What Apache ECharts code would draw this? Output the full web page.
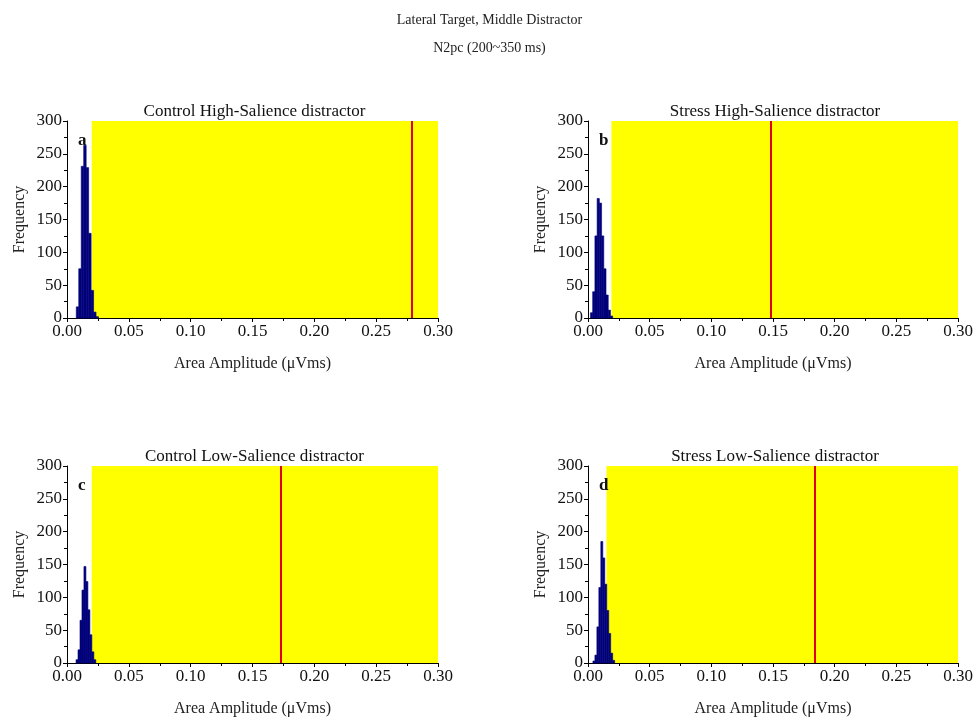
<!DOCTYPE html>
<html>
<head>
<meta charset="utf-8">
<script src="https://cdn.jsdelivr.net/npm/echarts@6/dist/echarts.min.js"></script>
<style>
  html, body { margin: 0; padding: 0; background: #fff; }
  #main { width: 979px; height: 719px; }
</style>
</head>
<body>
<div id="main"></div>
<script>
var myChart = echarts.init(document.getElementById('main'));

// panel data
var panelTitles = ['Control High-Salience distractor', 'Stress High-Salience distractor',
                   'Control Low-Salience distractor', 'Stress Low-Salience distractor'];
var panelLetters = ['a', 'b', 'c', 'd'];

// histogram bins: first bin start, bin width, counts
var binStart = [0.0075, 0.0020, 0.0073, 0.0040];
var binWidth = [0.0020, 0.0018, 0.0016, 0.0016];
var countsA = [17, 75, 231, 263, 229, 129, 42, 9, 2];
var countsB = [8, 40, 125, 182, 175, 125, 75, 35, 12, 3];
var countsC = [5, 20, 65, 111, 147, 124, 81, 43, 17, 5];
var countsD = [3, 12, 55, 115, 185, 160, 120, 80, 45, 15, 4];
var counts = [countsA, countsB, countsC, countsD];

// shaded region start and observed value (red line)
var shadeStart = [0.020, 0.019, 0.020, 0.015];
var observed = [0.279, 0.148, 0.173, 0.184];

var xTicks = [0, 0.30, 0.05];
var yTicks = [0, 300, 50];

var grids = [
    {left: 67, top: 121, width: 371, height: 197},
    {left: 588, top: 121, width: 370, height: 197},
    {left: 67, top: 466, width: 371, height: 197},
    {left: 588, top: 466, width: 370, height: 197}
];

var font = 'Liberation Serif';

var titles = [
    {text: 'Lateral Target, Middle Distractor', left: 'center', top: 8,
     textStyle: {fontFamily: font, fontSize: 14, fontWeight: 'normal', color: '#222'}},
    {text: 'N2pc (200~350 ms)', left: 'center', top: 36,
     textStyle: {fontFamily: font, fontSize: 14, fontWeight: 'normal', color: '#222'}}
];
var xAxes = [], yAxes = [], series = [];

for (var i = 0; i < 4; i++) {
    var g = grids[i];
    titles.push({
        text: panelTitles[i], left: g.left + g.width / 2 - 3, top: g.top - 23, textAlign: 'center',
        textStyle: {fontFamily: font, fontSize: 17, fontWeight: 'normal', color: '#111'}
    });
    titles.push({
        text: panelLetters[i], left: g.left + 6, top: g.top + 6,
        textStyle: {fontFamily: font, fontSize: 17, fontWeight: 'bold', color: '#111'}
    });
    xAxes.push({
        gridIndex: i, type: 'value', min: xTicks[0], max: xTicks[1], interval: xTicks[2],
        name: 'Area Amplitude (\u03bcVms)', nameLocation: 'middle', nameGap: 38,
        nameTextStyle: {fontFamily: font, fontSize: 16, color: '#222'},
        axisLine: {lineStyle: {color: '#000', width: 1}},
        axisTick: {show: true, length: 4, inside: false, lineStyle: {color: '#000'}},
        minorTick: {show: true, splitNumber: 2, length: 3, lineStyle: {color: '#000'}},
        splitLine: {show: false},
        axisLabel: {fontFamily: font, fontSize: 17, color: '#111', margin: 5,
                    formatter: function (v) { return v.toFixed(2); }}
    });
    yAxes.push({
        gridIndex: i, type: 'value', min: yTicks[0], max: yTicks[1], interval: yTicks[2],
        name: 'Frequency', nameLocation: 'middle', nameGap: 39, nameRotate: 90,
        nameTextStyle: {fontFamily: font, fontSize: 16, color: '#222'},
        axisLine: {show: true, lineStyle: {color: '#000', width: 1}},
        axisTick: {show: true, length: 4, inside: false, lineStyle: {color: '#000'}},
        minorTick: {show: true, splitNumber: 2, length: 3, lineStyle: {color: '#000'}},
        splitLine: {show: false},
        axisLabel: {fontFamily: font, fontSize: 17, color: '#111', margin: 5}
    });

    var data = counts[i].map(function (c, k) {
        var x0 = binStart[i] + k * binWidth[i];
        return [x0, x0 + binWidth[i], c];
    });

    series.push({
        type: 'custom',
        xAxisIndex: i, yAxisIndex: i,
        data: data,
        z: 5,
        renderItem: function (params, api) {
            var p0 = api.coord([api.value(0), api.value(2)]);
            var p1 = api.coord([api.value(1), 0]);
            return {
                type: 'rect',
                shape: {x: p0[0], y: p0[1], width: p1[0] - p0[0], height: p1[1] - p0[1]},
                style: {fill: '#00007a', stroke: '#00007a', lineWidth: 0.6}
            };
        },
        markArea: {
            silent: true,
            itemStyle: {color: '#ffff00', opacity: 1},
            data: [[{coord: [shadeStart[i], yTicks[1]]}, {coord: [xTicks[1], yTicks[0]]}]]
        },
        markLine: {
            silent: true,
            symbol: 'none',
            label: {show: false},
            lineStyle: {color: '#e0001a', width: 2, type: 'solid'},
            data: [[{coord: [observed[i], yTicks[0]]}, {coord: [observed[i], yTicks[1]]}]]
        }
    });
}

var option = {
    backgroundColor: '#fff',
    animation: false,
    title: titles,
    grid: grids,
    xAxis: xAxes,
    yAxis: yAxes,
    series: series
};

myChart.setOption(option);
</script>
</body>
</html>
